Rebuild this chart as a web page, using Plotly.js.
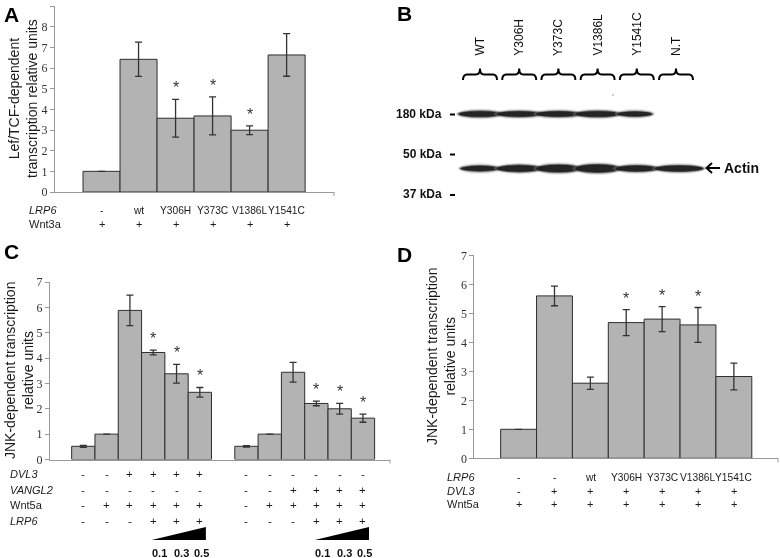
<!DOCTYPE html>
<html><head><meta charset="utf-8">
<script src="https://cdn.plot.ly/plotly-3.0.1.min.js"></script>
<style>html,body{margin:0;padding:0;background:#fff}#chart{width:780px;height:558px}
#chart .main-svg{will-change:transform}</style>
</head><body><div id="chart"></div>
<script>
// ---------- Panel A data ----------
const lrp6A  = ['-','wt','Y306H','Y373C','V1386L','Y1541C'];
const wnt3aA = ['+','+','+','+','+','+'];
const valsA  = [1.0, 6.42, 3.57, 3.68, 2.99, 6.63];
const errA   = [0, 0.83, 0.91, 0.92, 0.21, 1.03];
const sigA   = [false,false,true,true,true,false];

// ---------- Panel B (western blot) ----------
const laneLabels   = ['WT','Y306H','Y373C','V1386L','Y1541C','N.T'];
const markerLabels = ['180 kDa','50 kDa','37 kDa'];
const band180      = [0.95,0.9,0.9,0.95,0.8,0];
const bandActin    = [0.8,1.0,1.1,1.2,0.9,0.9];

// ---------- Panel C data ----------
const valsC1 = [0.52,1.0,5.88,4.22,3.38,2.65];
const errC1  = [0.04,0,0.6,0.09,0.37,0.19];
const valsC2 = [0.52,1.0,3.44,2.21,2.0,1.63];
const errC2  = [0.03,0,0.39,0.09,0.21,0.16];
const sigC1  = [false,false,false,true,true,true];
const sigC2  = [false,false,false,true,true,true];
const rowNamesC = ['<i>DVL3</i>','<i>VANGL2</i>','Wnt5a','<i>LRP6</i>'];
const dvl3C   = ['-','-','+','+','+','+','-','-','-','-','-','-'];
const vangl2C = ['-','-','-','-','-','-','-','-','+','+','+','+'];
const wnt5aC  = ['-','+','+','+','+','+','-','+','+','+','+','+'];
const lrp6C   = ['-','-','-','+','+','+','-','-','-','+','+','+'];
const doseC   = ['0.1','0.3','0.5'];

// ---------- Panel D data ----------
const lrp6D  = ['-','-','wt','Y306H','Y373C','V1386L','Y1541C'];
const dvl3D  = ['-','+','+','+','+','+','+'];
const wnt5aD = ['+','+','+','+','+','+','+'];
const valsD  = [1.0,5.6,2.59,4.68,4.8,4.6,2.82];
const errD   = [0,0.34,0.21,0.45,0.43,0.6,0.46];
const sigD   = [false,false,false,true,true,true,false];

// ---------- helpers ----------
const W = 780, H = 558;
const px = x => x / W;
const py = y => 1 - y / H;
const SANS = 'Liberation Sans, Arial, sans-serif';
const SERIF = 'Liberation Serif, Times New Roman, serif';
const TXT = '#1a1a1a';

const barMarker = {color:'#b3b3b3', line:{color:'#2e2e2e', width:1}};
const errStyle = arr => ({type:'data', array:arr, visible:true, color:'#333', thickness:1.3, width:3.5});

const idxA  = valsA.map((_, i) => i);
const idxC1 = valsC1.map((_, i) => i);
const idxC2 = valsC2.map((_, i) => i + valsC1.length + 1);
const idxC  = idxC1.concat(idxC2);
const idxD  = valsD.map((_, i) => i);

const traces = [
  {type:'bar', x:idxA, y:valsA, width:1, marker:barMarker, error_y:errStyle(errA), xaxis:'x', yaxis:'y', hoverinfo:'skip'},
  {type:'bar', x:idxC1, y:valsC1, width:1, marker:barMarker, error_y:errStyle(errC1), xaxis:'x2', yaxis:'y2', hoverinfo:'skip'},
  {type:'bar', x:idxC2, y:valsC2, width:1, marker:barMarker, error_y:errStyle(errC2), xaxis:'x2', yaxis:'y2', hoverinfo:'skip'},
  {type:'bar', x:idxD, y:valsD, width:1, marker:barMarker, error_y:errStyle(errD), xaxis:'x3', yaxis:'y3', hoverinfo:'skip'}
];

const ann = [];
const shapes = [];
const txt = (o) => ann.push(Object.assign({showarrow:false, font:{family:SANS, size:11, color:TXT}}, o));

// stars
function stars(idx, vals, errs, sig, xr, yr) {
  idx.forEach((x, i) => {
    if (sig[i]) txt({x:x, y:vals[i] + errs[i], xref:xr, yref:yr, text:'*', yanchor:'bottom', yshift:1,
      font:{family:SANS, size:16, color:'#333'}});
  });
}
stars(idxA, valsA, errA, sigA, 'x', 'y');
stars(idxC1, valsC1, errC1, sigC1, 'x2', 'y2');
stars(idxC2, valsC2, errC2, sigC2, 'x2', 'y2');
stars(idxD, valsD, errD, sigD, 'x3', 'y3');

// row labels
function row(idx, labels, xr, yPix, size) {
  idx.forEach((x, i) => txt({x:x, y:py(yPix), xref:xr, yref:'paper', text:labels[i], yanchor:'middle',
    font:{family:SANS, size:size, color:TXT}}));
}
// A
row(idxA, lrp6A, 'x', 210, 10.2);
row(idxA, wnt3aA, 'x', 224, 11);
txt({x:px(27), y:py(210), xref:'paper', yref:'paper', text:'<i>LRP6</i>', xanchor:'left', yanchor:'middle'});
txt({x:px(27), y:py(224), xref:'paper', yref:'paper', text:'Wnt3a', xanchor:'left', yanchor:'middle'});
// C
const rowsC = [dvl3C, vangl2C, wnt5aC, lrp6C];
const rowYC = [474, 489.5, 505, 520.5];
rowsC.forEach((r, k) => {
  row(idxC, r, 'x2', rowYC[k], 11.5);
  txt({x:px(8), y:py(rowYC[k]), xref:'paper', yref:'paper', text:rowNamesC[k], xanchor:'left', yanchor:'middle'});
});
// D
const rowsD = [lrp6D, dvl3D, wnt5aD];
const rowNamesD = ['<i>LRP6</i>','<i>DVL3</i>','Wnt5a'];
const rowYD = [477, 490.5, 504];
rowsD.forEach((r, k) => {
  row(idxD, r, 'x3', rowYD[k], k === 0 ? 10.2 : 11);
  txt({x:px(445), y:py(rowYD[k]), xref:'paper', yref:'paper', text:rowNamesD[k], xanchor:'left', yanchor:'middle'});
});

// dose triangles + labels (panel C)
[idxC1, idxC2].forEach(g => {
  const a = g[3] - 0.07, b = g[5] + 0.26;
  shapes.push({type:'path', xref:'x2', yref:'paper', fillcolor:'#000', line:{width:0},
    path:`M${a},${py(540)} L${b},${py(540)} L${b},${py(527)} Z`});
  const off = [0.28, 0.2, 0.07];
  doseC.forEach((d, i) => txt({x:g[3 + i] + off[i], y:py(553), xref:'x2', yref:'paper', text:'<b>' + d + '</b>', yanchor:'middle',
    font:{family:SANS, size:11, color:'#111'}}));
});

// axis titles
const ytitle = (x, y, t) => txt({x:px(x), y:py(y), xref:'paper', yref:'paper', text:t, textangle:-90,
  xanchor:'center', yanchor:'middle', font:{family:SANS, size:14, color:TXT}});
ytitle(23, 99, 'Lef/TCF-dependent<br>transcription relative units');
ytitle(19, 371, 'JNK-dependent transcription<br>relative units');
ytitle(441, 357, 'JNK-dependent transcription<br>relative units');

// panel letters
const letter = (x, y, t) => txt({x:px(x), y:py(y), xref:'paper', yref:'paper', text:'<b>' + t + '</b>',
  xanchor:'left', yanchor:'top', font:{family:SANS, size:21, color:'#000'}});
letter(2, 1, 'A');
letter(395, 0, 'B');
letter(2, 238, 'C');
letter(395, 241, 'D');

// extra x-axis end ticks
[[334, 192], [390, 459.5], [778, 458.3]].forEach(([x, y]) =>
  shapes.push({type:'line', xref:'paper', yref:'paper', x0:px(x), x1:px(x), y0:py(y), y1:py(y + 4), line:{color:'#999', width:1}}));

// ---------- Panel B : blot drawing ----------
const laneX = laneLabels.map((_, i) => 480 + i * 39.2);
const P = (x, y) => `${px(x)},${py(y)}`;
laneLabels.forEach((l, i) => {
  txt({x:px(laneX[i]), y:py(58), xref:'paper', yref:'paper', text:l, textangle:-90, xanchor:'center', yanchor:'bottom',
    font:{family:SANS, size:12, color:'#111'}});
  const xc = laneX[i], x0 = xc - 17, x1 = xc + 17, yt = 68.5, ym = 74.5, ye = 80;
  shapes.push({type:'path', xref:'paper', yref:'paper', line:{color:'#000', width:2},
    path:`M${P(x0, ye)} Q${P(x0, ym)} ${P(x0 + 4, ym)} L${P(xc - 4, ym)} Q${P(xc, ym)} ${P(xc, yt)} Q${P(xc, ym)} ${P(xc + 4, ym)} L${P(x1 - 4, ym)} Q${P(x1, ym)} ${P(x1, ye)}`});
});
function band(xc, hw, yc, ht) {
  const layers = [[3.2, 2.5, '#9a9a9a', 0.3], [2.0, 1.4, '#555', 0.4], [1.0, 0.6, '#333', 0.6], [0, 0, '#1a1a1a', 0.85]];
  layers.forEach(([dx, dy, c, o]) => {
    shapes.push({type:'circle', xref:'paper', yref:'paper', x0:px(xc - hw - dx), x1:px(xc + hw + dx), y0:py(yc + ht + dy), y1:py(yc - ht - dy),
      fillcolor:c, opacity:o, line:{width:0}});
  });
}
const hw180 = [21, 22, 22, 22, 17, 0];
band180.forEach((v, i) => { if (v > 0) band(laneX[i] - (i === 4 ? 2 : 0), hw180[i], 114, 3.0 * v); });
const hwAct = [19, 22, 22, 22, 21, 24];
bandActin.forEach((v, i) => band(laneX[i] + (i === 5 ? 3 : 0), hwAct[i], 168.5, 3.3 * v));
// marker labels and ticks
const markerY = [113.5, 153.5, 194];
markerLabels.forEach((m, i) => {
  txt({x:px(444), y:py(markerY[i]), xref:'paper', yref:'paper', text:'<b>' + m + '</b>', xanchor:'right', yanchor:'middle',
    font:{family:SANS, size:12, color:'#111'}});
  shapes.push({type:'line', xref:'paper', yref:'paper', x0:px(450), x1:px(455), y0:py(markerY[i] + 1), y1:py(markerY[i] + 1), line:{color:'#000', width:2}});
});
txt({x:px(722), y:py(168), xref:'paper', yref:'paper', text:'<b>Actin</b>', xanchor:'left', yanchor:'middle', font:{family:SANS, size:14, color:'#111'}});
shapes.push({type:'path', xref:'paper', yref:'paper', line:{color:'#000', width:2},
  path:`M${P(720, 168)} L${P(707, 168)} M${P(712, 163)} L${P(706.5, 168)} L${P(712, 173)}`});
shapes.push({type:'circle', xref:'paper', yref:'paper', x0:px(612), x1:px(614), y0:py(96), y1:py(94), fillcolor:'#bbb', line:{width:0}});

// ---------- axes ----------
const xAx = (d, r, anc) => ({domain:d, range:r, anchor:anc, showticklabels:false, showline:true, linecolor:'#999', linewidth:1,
  ticks:'', showgrid:false, zeroline:false, fixedrange:true});
const yAx = (d, r, anc) => ({domain:d, range:r, anchor:anc, dtick:1, tick0:0, ticks:'outside', ticklen:4, tickcolor:'#999',
  showline:true, linecolor:'#999', linewidth:1, showgrid:false, zeroline:false, fixedrange:true,
  tickfont:{family:SERIF, size:12, color:'#333'}});

const layout = {
  width:W, height:H, margin:{l:0, r:0, t:0, b:0}, paper_bgcolor:'#fff', plot_bgcolor:'rgba(0,0,0,0)',
  showlegend:false, bargap:0,
  xaxis:  xAx([px(55), px(334)], [-1.257, 6.28], 'y'),
  yaxis:  yAx([py(192), py(6)], [0, 9], 'x'),
  xaxis2: xAx([px(50), px(390)], [-1.43, 13.16], 'y2'),
  yaxis2: yAx([py(459.5), py(282)], [0, 7], 'x2'),
  xaxis3: xAx([px(474.3), px(778)], [-1.235, 7.23], 'y3'),
  yaxis3: yAx([py(458.3), py(255.3)], [0, 7], 'x3'),
  annotations:ann, shapes:shapes
};
Plotly.newPlot('chart', traces, layout, {staticPlot:true, displayModeBar:false});
</script></body></html>
